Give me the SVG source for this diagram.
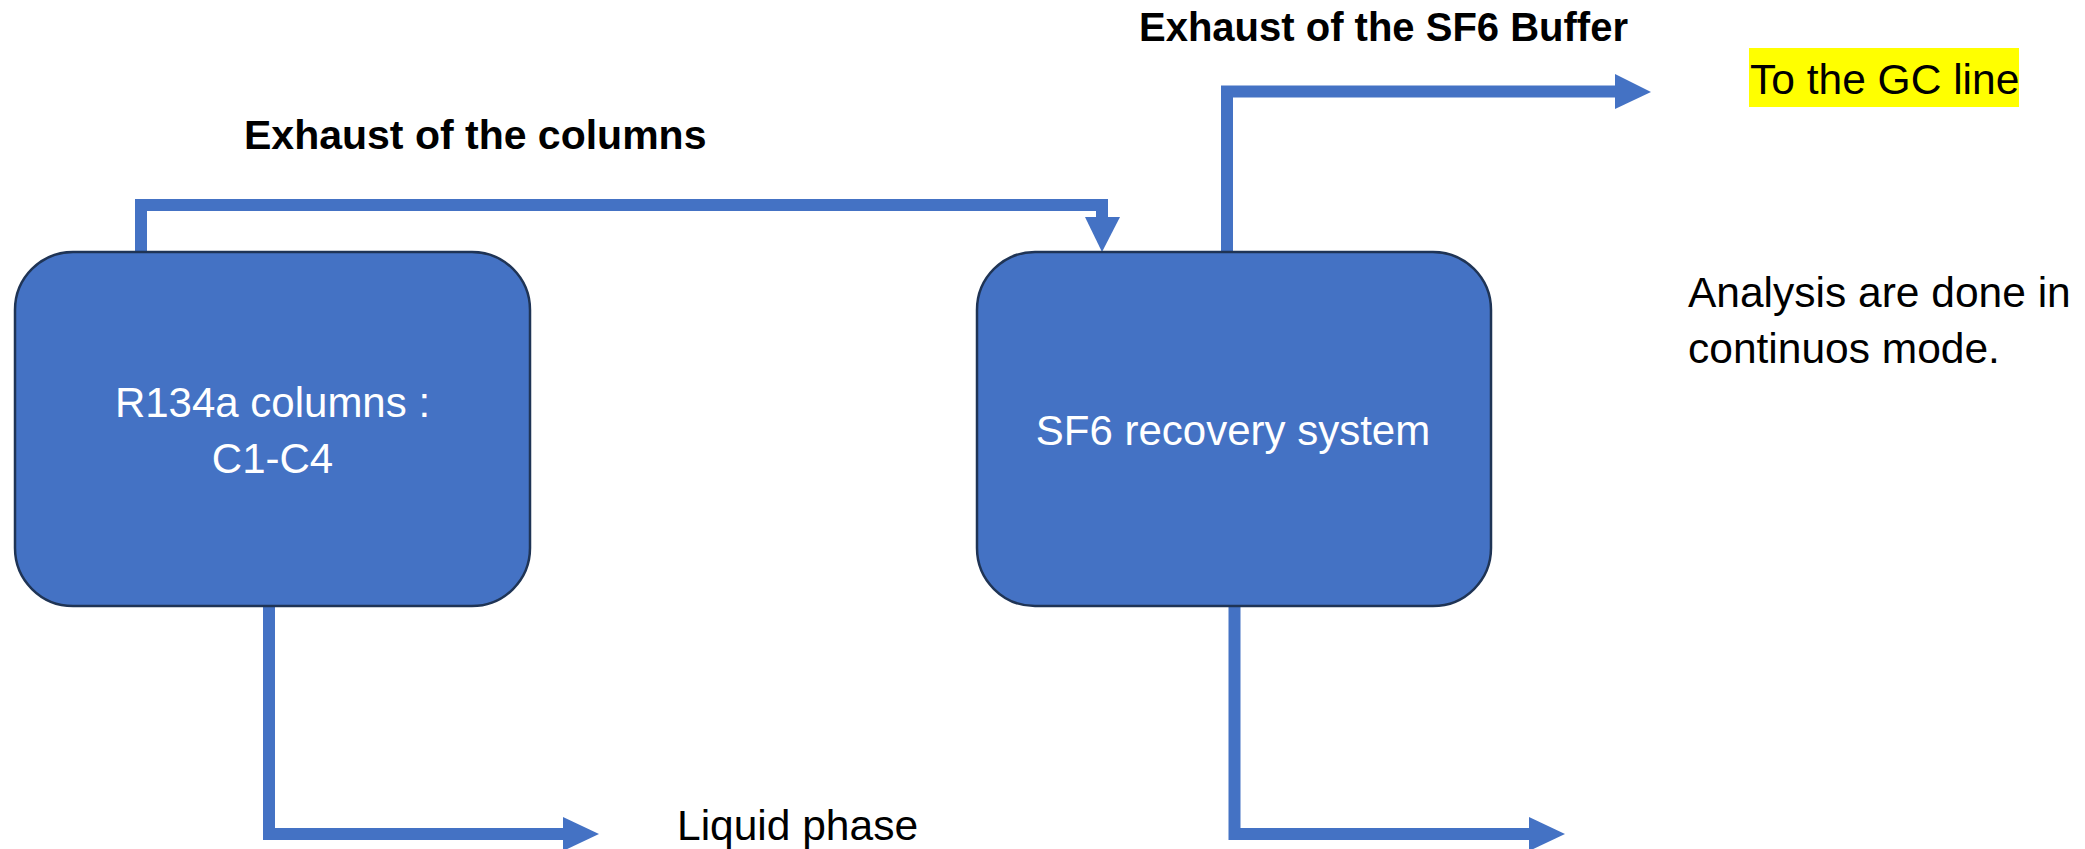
<svg xmlns="http://www.w3.org/2000/svg" width="2085" height="849" viewBox="0 0 2085 849">
<style>
  .box { fill: #4472C4; stroke: #1F3455; stroke-width: 2.5; }
  .boxtext { font-family: "Liberation Sans", Arial, sans-serif; font-size: 42px; fill: #FFFFFF; text-anchor: middle; }
  .label { font-family: "Liberation Sans", Arial, sans-serif; font-size: 42.5px; fill: #000000; }
  .title { font-family: "Liberation Sans", Arial, sans-serif; font-weight: bold; fill: #000000; }
  .conn { fill: none; stroke: #4472C4; stroke-width: 12; stroke-linejoin: miter; stroke-linecap: butt; }
  .head { fill: #4472C4; stroke: none; }
</style>
<rect width="2085" height="849" fill="#FFFFFF"/>

<g id="connectors">
  <path class="conn" d="M141,253 V205 H1102 V218"/>
  <polygon class="head" points="1085,217 1120,217 1102,252"/>
  <path class="conn" d="M1227,253 V91.5 H1616"/>
  <polygon class="head" points="1615,74 1615,109 1651,92"/>
  <path class="conn" d="M269,605 V834 H564"/>
  <polygon class="head" points="563,817 563,851 599,834"/>
  <path class="conn" d="M1234.5,605 V834 H1530"/>
  <polygon class="head" points="1529,817 1529,851 1565,834"/>
</g>

<g id="node-r134a">
  <rect class="box" x="15" y="252" width="515" height="354" rx="58" ry="58"/>
  <text class="boxtext" x="272.5" y="417">R134a columns :</text>
  <text class="boxtext" x="272.5" y="473">C1-C4</text>
</g>

<g id="node-sf6">
  <rect class="box" x="977" y="252" width="514" height="354" rx="58" ry="58"/>
  <text class="boxtext" x="1233" y="445">SF6 recovery system</text>
</g>

<g id="label-exhaust-columns">
  <text class="title" x="244" y="149" font-size="41">Exhaust of the columns</text>
</g>

<g id="label-exhaust-buffer">
  <text class="title" x="1139" y="41" font-size="40">Exhaust of the SF6 Buffer</text>
</g>

<g id="label-gc-line">
  <rect x="1749" y="48" width="270" height="59" fill="#FFFF00"/>
  <text class="label" x="1750" y="94" font-size="42">To the GC line</text>
</g>

<g id="label-analysis">
  <text class="label" x="1688" y="307">Analysis are done in</text>
  <text class="label" x="1688" y="363">continuos mode.</text>
</g>

<g id="label-liquid">
  <text class="label" x="677" y="840">Liquid phase</text>
</g>
</svg>
